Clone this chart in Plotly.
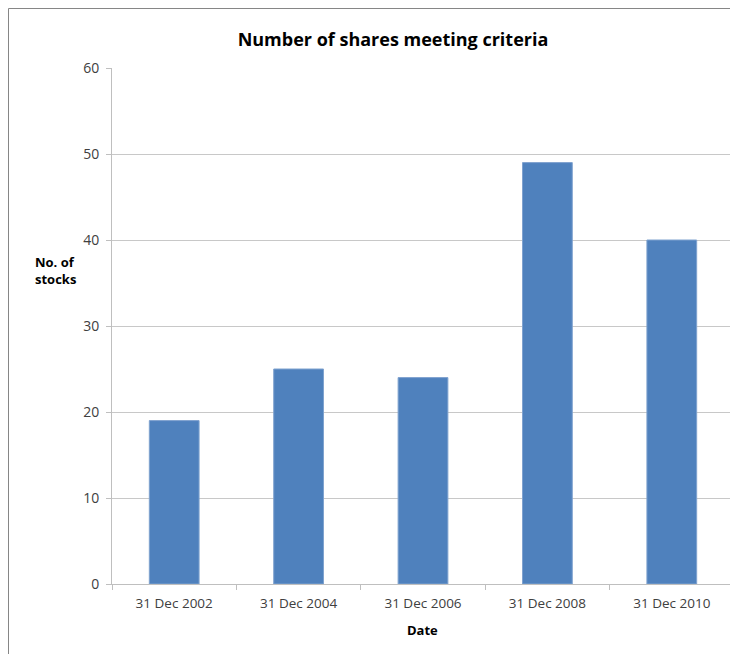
import plotly.graph_objects as go

categories = ["31 Dec 2002", "31 Dec 2004", "31 Dec 2006", "31 Dec 2008", "31 Dec 2010"]
values = [19, 25, 24, 49, 40]
y_ticks = [0, 10, 20, 30, 40, 50, 60]

font = "Open Sans, Liberation Sans, sans-serif"

# page body has an 8px margin; figure coords = page coords - 8
L, R, T, B = 104, 726, 60, 576
W, H = 730, 646
pw, ph = R - L, B - T

def px(x):
    return (x - 8 - L) / pw

def py(y):
    return (B - (y - 8)) / ph

fig = go.Figure(go.Bar(
    x=categories, y=values,
    marker=dict(color="#4F81BD", line=dict(color="#7FA2CF", width=1)),
    width=0.4,
))

fig.update_layout(
    width=W, height=H,
    margin=dict(l=L, r=W - R, t=T, b=H - B),
    paper_bgcolor="white", plot_bgcolor="white",
    showlegend=False,
    title=dict(text="<b>Number of shares meeting criteria</b>", x=(393 - 8) / W, xanchor="center",
               y=1 - (40 - 8) / H, yanchor="middle",
               font=dict(family=font, size=18, color="#000000")),
    font=dict(family=font),
    xaxis=dict(
        showline=True, linecolor="#BFBFBF", linewidth=1,
        ticks="outside", tickson="boundaries", ticklen=5, tickcolor="#BFBFBF",
        tickfont=dict(size=13.5, color="#404040"),
        ticklabelstandoff=7,
        showgrid=False,
    ),
    yaxis=dict(
        range=[0, 60], tickvals=y_ticks,
        showline=True, linecolor="#BFBFBF", linewidth=1,
        ticks="outside", ticklen=5, tickcolor="#BFBFBF",
        tickfont=dict(size=14, color="#404040"),
        ticklabelstandoff=4,
        showgrid=True, gridcolor="#C8C8C8", gridwidth=1,
        zeroline=False,
    ),
    annotations=[
        dict(text="<b>No. of<br>stocks</b>", xref="paper", yref="paper",
             x=px(33), y=py(270), xanchor="left", yanchor="middle",
             showarrow=False, align="left", font=dict(family=font, size=13, color="#000000")),
        dict(text="<b>Date</b>", xref="paper", yref="paper",
             x=px(422), y=py(630), xanchor="center", yanchor="middle",
             showarrow=False, font=dict(family=font, size=13, color="#000000")),
    ],
    shapes=[
        dict(type="line", xref="paper", yref="paper",
             x0=px(8.5), x1=px(8.5), y0=py(8.5), y1=py(720),
             line=dict(color="#868686", width=1)),
        dict(type="line", xref="paper", yref="paper",
             x0=px(8.5), x1=px(780), y0=py(8.5), y1=py(8.5),
             line=dict(color="#868686", width=1)),
    ],
)

fig.write_html("out.html")
